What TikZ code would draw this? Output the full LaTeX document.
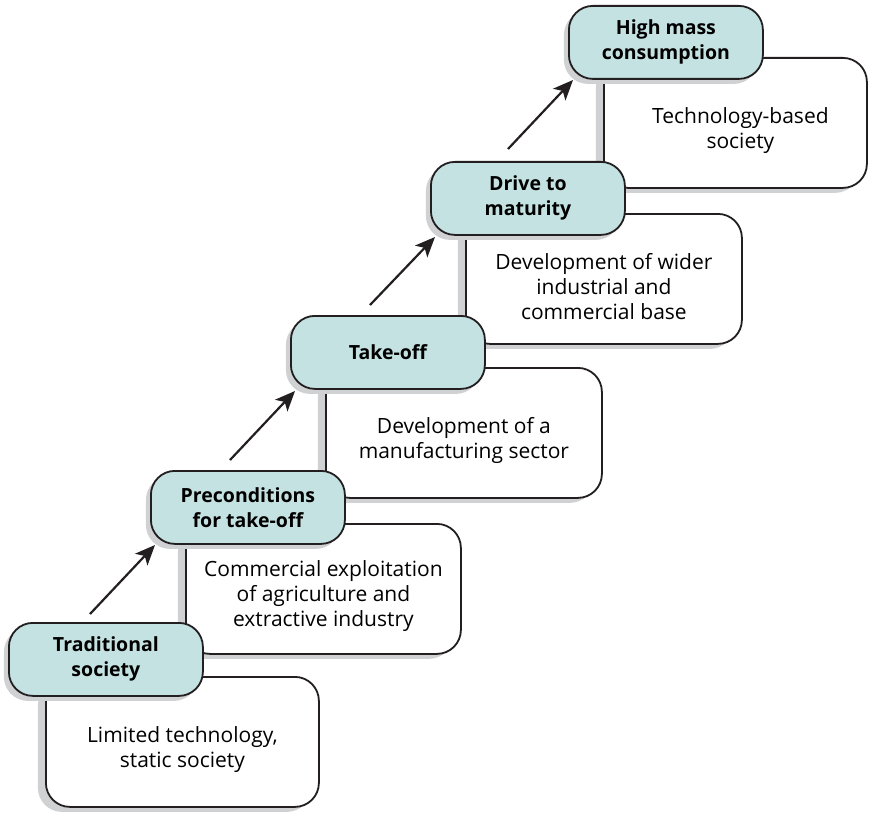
\documentclass[tikz,border=0pt]{standalone}
\usepackage{fontspec}
\setmainfont{Open Sans}
\usetikzlibrary{arrows.meta,shadows}
\definecolor{tealfill}{RGB}{196,226,225}
\definecolor{shadowgray}{RGB}{208,209,211}
\definecolor{inkc}{RGB}{35,31,32}
\tikzset{
  stagebox/.style={draw=inkc, line width=1.8pt, fill=tealfill, rounded corners=24pt,
    minimum width=194pt, minimum height=73pt, anchor=north west, align=center,
    inner sep=0pt, font=\fontsize{19.5}{25}\selectfont\bfseries,
    drop shadow={shadow xshift=-5pt, shadow yshift=-5pt, fill=shadowgray, opacity=1}},
  descbox/.style={draw=inkc, line width=1.8pt, fill=white, rounded corners=24pt,
    minimum height=130pt, anchor=north west, align=center,
    inner sep=0pt, font=\fontsize{21}{25}\selectfont,
    drop shadow={shadow xshift=-8pt, shadow yshift=-5pt, fill=shadowgray, opacity=1}},
  uparrow/.style={draw=inkc, line width=2.2pt, -{Stealth[length=20pt,width=17pt,inset=5pt]}}
}
\begin{document}
\begin{tikzpicture}[x=1pt,y=-1pt]
\useasboundingbox (0,0) rectangle (869,813);
% stage 5
\node[descbox, minimum width=263pt] (d5) at (603,57) {\\[6pt]\hspace*{10pt}Technology-based\\\hspace*{10pt}society};
\node[stagebox] (s5) at (568,5) {High mass\\consumption};
% stage 4
\node[descbox, minimum width=276pt] (d4) at (465,213) {\\[6pt]Development of wider\\industrial and\\commercial base};
\node[stagebox] (s4) at (430,161) {Drive to\\maturity};
% stage 3
\node[descbox, minimum width=276pt] (d3) at (325,367) {\\[6pt]Development of a\\manufacturing sector};
\node[stagebox] (s3) at (290,315) {Take-off};
% stage 2
\node[descbox, minimum width=275pt] (d2) at (185,523) {\\[6pt]Commercial exploitation\\of agriculture and\\extractive industry};
\node[stagebox] (s2) at (150,470) {Preconditions\\for take-off};
% stage 1
\node[descbox, minimum width=273pt] (d1) at (45,676) {\\[6pt]Limited technology,\\static society};
\node[stagebox] (s1) at (8,622) {Traditional\\society};
% arrows
\coordinate (a1s) at (90,614);
\coordinate (a1e) at (155,545);
\coordinate (a2s) at (230,460);
\coordinate (a2e) at (295,391);
\coordinate (a3s) at (370,305);
\coordinate (a3e) at (435,237);
\coordinate (a4s) at (508,149);
\coordinate (a4e) at (573,80);
\draw[uparrow] (a1s) -- (a1e);
\draw[uparrow] (a2s) -- (a2e);
\draw[uparrow] (a3s) -- (a3e);
\draw[uparrow] (a4s) -- (a4e);
\end{tikzpicture}
\end{document}
